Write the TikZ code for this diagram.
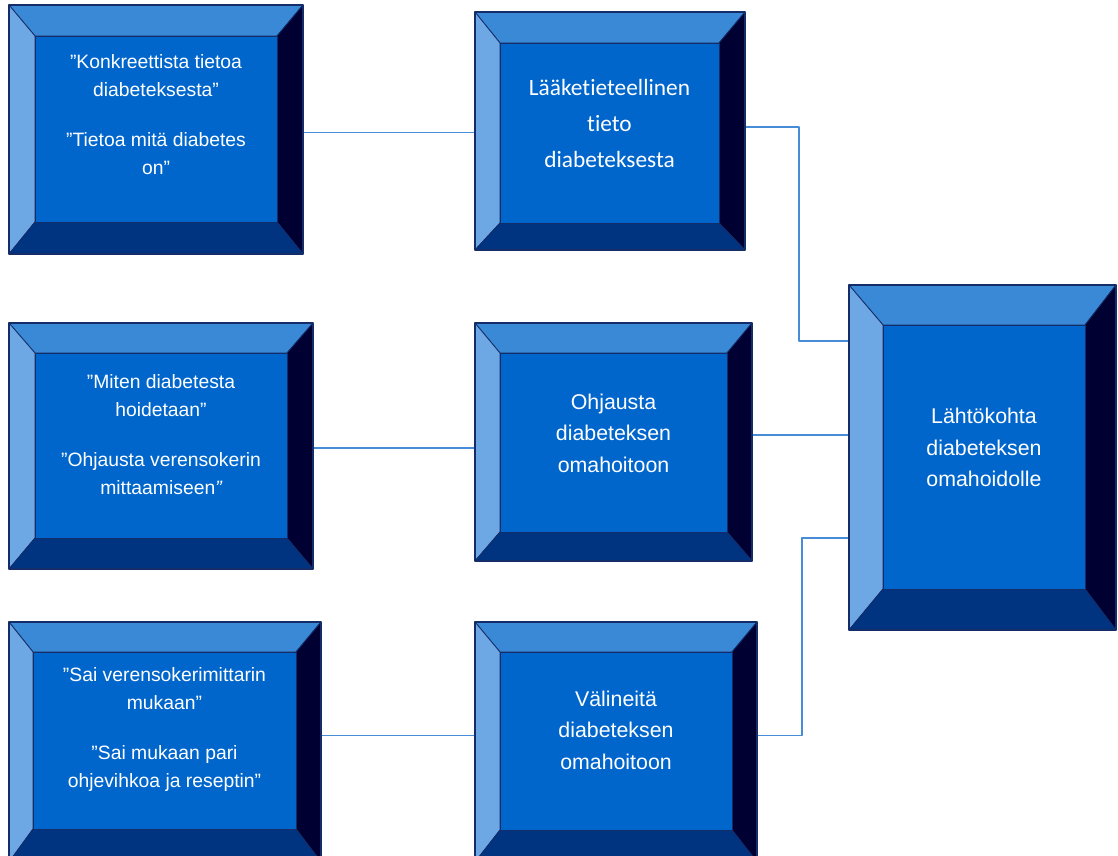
\documentclass[tikz,border=0pt]{standalone}
\usepackage{fontspec}
\setmainfont{Liberation Sans}
\newfontfamily\calibri[Ligatures=NoCommon]{Carlito}
\usetikzlibrary{fit,calc}

\definecolor{topface}{RGB}{58,137,214}
\definecolor{leftface}{RGB}{110,168,228}
\definecolor{frontface}{RGB}{0,102,204}
\definecolor{bottomface}{RGB}{0,51,128}
\definecolor{rightface}{RGB}{0,0,51}
\definecolor{edgecol}{RGB}{20,45,105}
\definecolor{linkcol}{RGB}{70,140,215}

% bevelled box: name, outer NW, outer SE, inner NW, inner SE
\newcommand{\bevelbox}[5]{%
  \coordinate (#1-o1) at #2; \coordinate (#1-o2) at #3;
  \coordinate (#1-i1) at #4; \coordinate (#1-i2) at #5;
  \filldraw[face,fill=topface] (#1-o1) -- (#1-o2 |- #1-o1) -- (#1-i2 |- #1-i1) -- (#1-i1) -- cycle;
  \filldraw[face,fill=leftface] (#1-o1) -- (#1-i1) -- (#1-i1 |- #1-i2) -- (#1-o1 |- #1-o2) -- cycle;
  \filldraw[face,fill=rightface] (#1-o2 |- #1-o1) -- (#1-o2) -- (#1-i2) -- (#1-i2 |- #1-i1) -- cycle;
  \filldraw[face,fill=bottomface] (#1-o1 |- #1-o2) -- (#1-o2) -- (#1-i2) -- (#1-i1 |- #1-i2) -- cycle;
  \node[front,fit=(#1-i1)(#1-i2)] (#1-in) {};
  \node[outer,fit=(#1-o1)(#1-o2)] (#1) {};
}

\begin{document}
\begin{tikzpicture}[x=0.75pt,y=-0.75pt,line join=round,
    face/.style={draw=edgecol,line width=0.6pt},
    front/.style={draw=edgecol,fill=frontface,line width=0.6pt,inner sep=0pt},
    outer/.style={draw=edgecol,line width=0.8pt,inner sep=0pt},
    quote/.style={text=white,align=center,font=\fontsize{14.5}{21}\selectfont},
    topic/.style={text=white,align=center,font=\fontsize{16}{23.6}\selectfont},
    link/.style={draw=linkcol,line width=0.8pt}]
  \useasboundingbox[fill=white] (0,0) rectangle (1118,856);

  % left column: quotes
  \bevelbox{konkr}{(9,5)}{(303,254)}{(35,36)}{(277,222)}
  \bevelbox{miten}{(9,323)}{(313,569)}{(35,353)}{(287,538)}
  \bevelbox{sai}{(9,622)}{(321,862)}{(33,652)}{(296,829)}
  % middle column: categories
  \bevelbox{laake}{(475,12)}{(745,250)}{(500,43)}{(719,223)}
  \bevelbox{ohjaus}{(475,323)}{(752,561)}{(500,353)}{(727,532)}
  \bevelbox{valine}{(475,622)}{(757,862)}{(500,652)}{(732,830)}
  % right: main category
  \bevelbox{lahto}{(849,285)}{(1116,630)}{(883,325)}{(1085,589)}

  \node[quote] (konkr-txt) at ([yshift=11pt]konkr-in.center)
    {”Konkreettista tietoa\\ diabeteksesta”\\[16.5pt] ”Tietoa mitä diabetes\\ on”};
  \node[quote] (miten-txt) at ([yshift=8.5pt]miten-in.center)
    {”Miten diabetesta\\ hoidetaan”\\[16.5pt] ”Ohjausta verensokerin\\ mittaamiseen{\itshape ”}};
  \node[quote] (sai-txt) at ([yshift=8pt]sai-in.center)
    {”Sai verensokerimittarin\\ mukaan”\\[16.5pt] ”Sai mukaan pari\\ ohjevihkoa ja reseptin”};
  \node[text=white,align=center,font=\calibri\fontsize{17.5}{27}\selectfont] (laake-txt)
    at ([yshift=7.5pt]laake-in.center) {Lääketieteellinen\\ tieto\\ diabeteksesta};
  \node[topic] (ohjaus-txt) at ([yshift=7pt]ohjaus-in.center) {Ohjausta\\ diabeteksen\\ omahoitoon};
  \node[topic] (valine-txt) at ([yshift=8pt]valine-in.center) {Välineitä\\ diabeteksen\\ omahoitoon};
  \node[topic] (lahto-txt) at ([yshift=7pt]lahto-in.center) {Lähtökohta\\ diabeteksen\\ omahoidolle};

  % connectors
  \coordinate (j1) at (799,341);
  \coordinate (j3) at (802,538);
  \draw[link] ([yshift=-2pt]konkr.east) -- ([yshift=-2pt]konkr.east -| laake.west);
  \draw[link] ([yshift=-1.5pt]miten.east) -- ([yshift=-1.5pt]miten.east -| ohjaus.west);
  \draw[link] ([yshift=5pt]sai.east) -- ([yshift=5pt]sai.east -| valine.west);
  \draw[link] ([yshift=3pt]laake.east) -| (j1) -- (j1 -| lahto.west);
  \draw[link] ([yshift=5.25pt]ohjaus.east) -- ([yshift=5.25pt]ohjaus.east -| lahto.west);
  \draw[link] ([yshift=5pt]valine.east) -| (j3) -- (j3 -| lahto.west);
\end{tikzpicture}
\end{document}
